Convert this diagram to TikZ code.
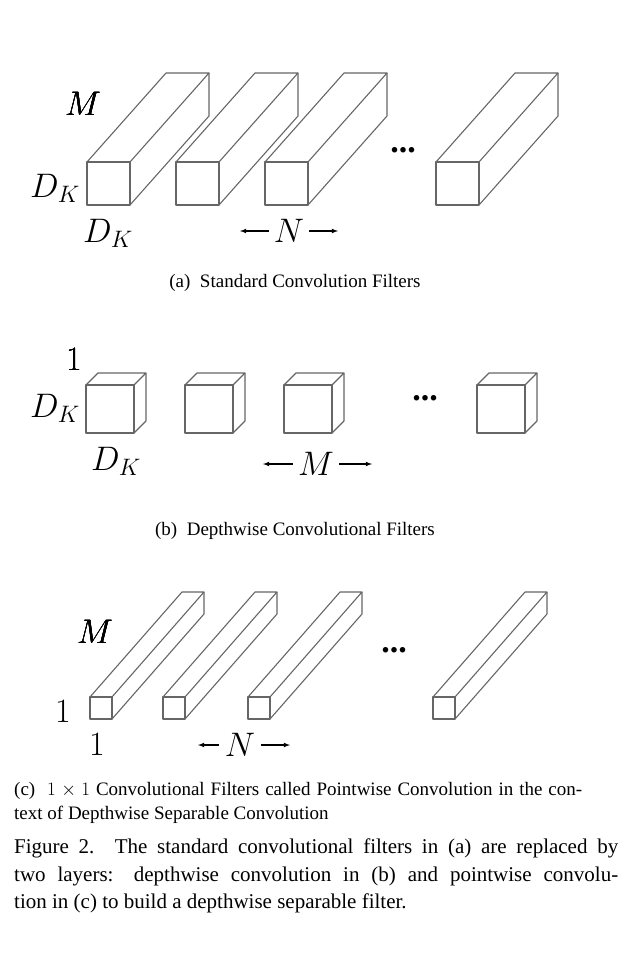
\documentclass[tikz,border=0pt]{standalone}
\usepackage{fix-cm}
\usepackage{fontspec}
\setmainfont{Liberation Serif}
\usetikzlibrary{arrows,positioning}

% one prism: front square at (x,y), size w, depth offset (dx,dy)
\newcommand{\filterbox}[5]{%
  \draw[box] (#1,#2) rectangle ++(#3,#3);
  \draw[box] (#1,#2) -- ++(#4,#5) -- ++(#3,0) -- ++(-#4,-#5);
  \draw[box] (#1+#3+#4,#2+#5) -- ++(0,#3) -- (#1+#3,#2+#3);
}

\begin{document}
\begin{tikzpicture}[x=1pt,y=-1pt,
    box/.style={draw=black!60,line width=1.1pt,line join=round},
    lbl/.style={inner sep=0pt,font=\fontsize{34}{34}\selectfont},
    dots/.style={inner sep=0pt,font=\fontsize{34}{34}\selectfont\bfseries},
    size/.style={-latex,line width=1.1pt},
    subcap/.style={inner sep=0pt,font=\fontsize{19}{24}\selectfont}]

    \useasboundingbox (0,0) rectangle (632,955);

    % (a) standard filters
    \foreach \x in {87,176,265,436}
        \filterbox{\x}{162}{43}{79}{-89}
    \node[lbl] (aM) at (83,104) {$M$};
    \node[lbl] (aDl) at (55,188) {$D_K$};
    \node[lbl] (aDb) at (108,233) {$D_K$};
    \node[lbl] (aN) at (289,231) {$N$};
    \coordinate (aNl) at (240,231);
    \coordinate (aNr) at (338,231);
    \draw[size] ([xshift=-5pt]aN.west) -- (aNl);
    \draw[size] ([xshift=5pt]aN.east) -- (aNr);
    \node[dots] (adots) at (403,150) {...};
    \node[subcap] (acap) at (295,283) {(a)\ \ Standard Convolution Filters};

    % (b) depthwise filters
    \foreach \x in {86,185,284,477}
        \filterbox{\x}{385}{48}{12}{-12}
    \node[lbl] (b1) at (74,360) {$1$};
    \node[lbl] (bDl) at (55,408) {$D_K$};
    \node[lbl] (bDb) at (116,461) {$D_K$};
    \node[lbl] (bM) at (316,464) {$M$};
    \coordinate (bMl) at (263,464);
    \coordinate (bMr) at (372,464);
    \draw[size] ([xshift=-5pt]bM.west) -- (bMl);
    \draw[size] ([xshift=5pt]bM.east) -- (bMr);
    \node[dots] (bdots) at (425,398) {...};
    \node[subcap] (bcap) at (295,531) {(b)\ \ Depthwise Convolutional Filters};

    % (c) pointwise filters
    \foreach \x in {90,163,248,433}
        \filterbox{\x}{697}{22}{92}{-105}
    \node[lbl] (cM) at (95,632) {$M$};
    \node[lbl] (c1l) at (63,712) {$1$};
    \node[lbl] (c1b) at (97,745) {$1$};
    \node[lbl] (cN) at (240,745) {$N$};
    \coordinate (cNl) at (198,745);
    \coordinate (cNr) at (290,745);
    \draw[size] ([xshift=-6pt]cN.west) -- (cNl);
    \draw[size] ([xshift=6pt]cN.east) -- (cNr);
    \node[dots] (cdots) at (394,650) {...};
    \node[subcap,anchor=north west,text width=568pt,align=justify] (ccap) at (14,782)
        {(c)\ \ $1\times1$ Convolutional Filters called Pointwise Convolution in the con-\linebreak
         text of Depthwise Separable Convolution};

    % figure caption
    \node[subcap,anchor=north west,text width=604pt,align=justify,
          font=\fontsize{21}{27.5}\selectfont] (fig) at (14,839)
        {Figure 2. The standard convolutional filters in (a) are replaced by\linebreak
         two layers: depthwise convolution in (b) and pointwise convolu-\linebreak
         tion in (c) to build a depthwise separable filter.};
\end{tikzpicture}
\end{document}
